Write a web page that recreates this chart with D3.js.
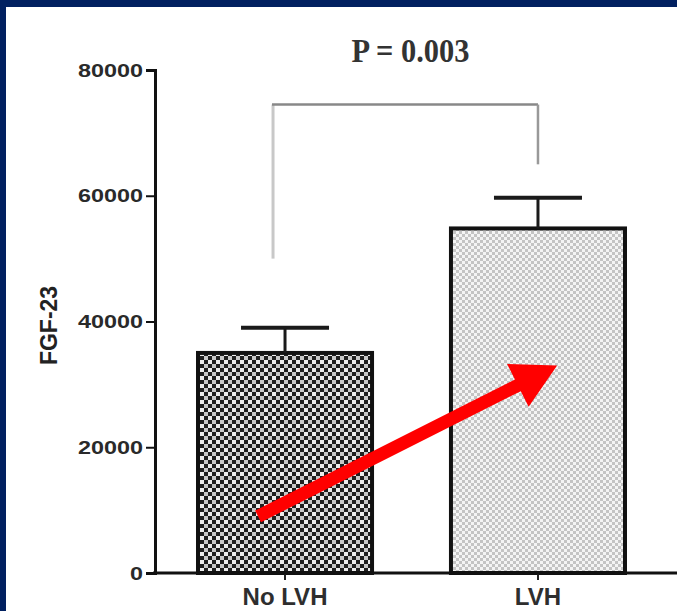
<!DOCTYPE html>
<html>
<head>
<meta charset="utf-8">
<script src="https://cdn.jsdelivr.net/npm/d3@7"></script>
<style>
  html, body { margin: 0; padding: 0; background: #fff; }
  svg { display: block; }
</style>
</head>
<body>
<svg id="chart" width="677" height="611"></svg>
<script>
// FGF-23 by LVH status: group means with SEM bars
const categories = ["No LVH", "LVH"];
const means = [35000, 54800];
const errorTops = [39000, 59700];
const yTicks = [0, 20000, 40000, 60000, 80000];
const yTickLabels = ["0", "20000", "40000", "60000", "80000"];
const pLabel = "P = 0.003";
const yTitle = "FGF-23";
// significance bracket: left leg bottom, top, right leg bottom
const bracket = [50000, 74500, 65000];
// arrow annotation: from (No LVH, 9000) to (LVH, 33000)
const arrowFrom = ["No LVH", 9000];
const arrowTo = ["LVH", 33000];

const svg = d3.select("#chart");
const W = 677, H = 611;

// frame band on top and left
svg.append("rect").attr("x", 0).attr("y", 0).attr("width", W).attr("height", H).attr("fill", "#fff");
svg.append("rect").attr("x", 0).attr("y", 0).attr("width", W).attr("height", 7).attr("fill", "#012060");
svg.append("rect").attr("x", 0).attr("y", 0).attr("width", 6).attr("height", H).attr("fill", "#012060");

const y = d3.scaleLinear().domain([0, 80000]).range([573, 70]);
const x = d3.scaleBand().domain(categories).range([155, 668]).paddingInner(0.312).paddingOuter(0.17);
const cx = c => x(c) + x.bandwidth() / 2;

// fill patterns
const defs = svg.append("defs");
const dark = defs.append("pattern").attr("id", "darkCheck").attr("patternUnits", "userSpaceOnUse")
  .attr("width", 8).attr("height", 8);
dark.append("rect").attr("width", 8).attr("height", 8).attr("fill", "#1f1f1f");
dark.append("rect").attr("x", 0).attr("y", 0).attr("width", 4).attr("height", 4).attr("fill", "#ececec");
dark.append("rect").attr("x", 4).attr("y", 4).attr("width", 4).attr("height", 4).attr("fill", "#c8c8c8");

const light = defs.append("pattern").attr("id", "lightCheck").attr("patternUnits", "userSpaceOnUse")
  .attr("width", 6).attr("height", 6);
light.append("rect").attr("width", 6).attr("height", 6).attr("fill", "#f4f4f4");
light.append("rect").attr("x", 0).attr("y", 0).attr("width", 3).attr("height", 3).attr("fill", "#c4c4c4");
light.append("rect").attr("x", 3).attr("y", 3).attr("width", 3).attr("height", 3).attr("fill", "#c4c4c4");

const fills = ["url(#darkCheck)", "url(#lightCheck)"];

// bars
svg.append("g").selectAll("rect").data(categories).join("rect")
  .attr("x", d => x(d))
  .attr("y", (d, i) => y(means[i]))
  .attr("width", x.bandwidth())
  .attr("height", (d, i) => y(0) - y(means[i]))
  .attr("fill", (d, i) => fills[i])
  .attr("stroke", "#111")
  .attr("stroke-width", 4);

// error bars
const eb = svg.append("g").attr("stroke", "#1a1a1a");
categories.forEach((c, i) => {
  eb.append("line").attr("x1", cx(c)).attr("x2", cx(c))
    .attr("y1", y(means[i])).attr("y2", y(errorTops[i])).attr("stroke-width", 3);
  eb.append("line").attr("x1", cx(c) - 44).attr("x2", cx(c) + 44)
    .attr("y1", y(errorTops[i])).attr("y2", y(errorTops[i])).attr("stroke-width", 4);
});

// y axis
const yAxis = svg.append("g").attr("transform", "translate(155,0)")
  .call(d3.axisLeft(y).tickValues(yTicks).tickFormat((d, i) => yTickLabels[i]).tickSize(9).tickPadding(3));
yAxis.select(".domain").attr("stroke", "#111").attr("stroke-width", 3);
yAxis.selectAll(".tick line").attr("stroke", "#111").attr("stroke-width", 2);
yAxis.selectAll(".tick text")
  .attr("font-family", "'Liberation Sans', Arial, sans-serif")
  .attr("font-weight", "bold").attr("font-size", 19).attr("fill", "#2a2a2a")
  .attr("textLength", function() { return this.textContent.length * 13; })
  .attr("lengthAdjust", "spacingAndGlyphs");

// x axis
const xAxis = svg.append("g").attr("transform", `translate(0,${y(0)})`)
  .call(d3.axisBottom(x).tickSize(7).tickPadding(10).tickSizeOuter(0));
xAxis.select(".domain").remove();
svg.append("line").attr("x1", 153).attr("x2", W).attr("y1", y(0)).attr("y2", y(0))
  .attr("stroke", "#111").attr("stroke-width", 3);
xAxis.selectAll(".tick line").attr("stroke", "#222").attr("stroke-width", 2);
xAxis.selectAll(".tick text")
  .attr("font-family", "'Liberation Sans', Arial, sans-serif")
  .attr("font-weight", "bold").attr("font-size", 24).attr("fill", "#2e2e2e")
  .attr("dy", "0.62em");

// y title
svg.append("text")
  .attr("transform", `translate(57,${(y(0) + y(80000)) / 2 + 4}) rotate(-90)`)
  .attr("text-anchor", "middle")
  .attr("font-family", "'Liberation Sans', Arial, sans-serif")
  .attr("font-weight", "bold").attr("font-size", 23).attr("fill", "#222")
  .text(yTitle);

// significance bracket
const bl = cx(categories[0]) - 12, br = cx(categories[1]);
svg.append("line").attr("x1", bl).attr("x2", bl).attr("y1", y(bracket[0])).attr("y2", y(bracket[1]))
  .attr("stroke", "#c8c8c8").attr("stroke-width", 3);
svg.append("line").attr("x1", bl - 1).attr("x2", br).attr("y1", y(bracket[1])).attr("y2", y(bracket[1]))
  .attr("stroke", "#888").attr("stroke-width", 2.5);
svg.append("line").attr("x1", br).attr("x2", br).attr("y1", y(bracket[1])).attr("y2", y(bracket[2]))
  .attr("stroke", "#999").attr("stroke-width", 2.5);

svg.append("text")
  .attr("x", (bl + br) / 2 + 5).attr("y", 62)
  .attr("text-anchor", "middle")
  .attr("font-family", "'Liberation Serif', 'Times New Roman', serif")
  .attr("font-weight", "bold").attr("font-size", 34).attr("fill", "#333")
  .attr("textLength", 118).attr("lengthAdjust", "spacingAndGlyphs")
  .text(pLabel);

// red arrow
const ax0 = x(arrowFrom[0]) + x.bandwidth() * 0.345, ay0 = y(arrowFrom[1]);
const ax1 = cx(arrowTo[0]) + x.bandwidth() * 0.11, ay1 = y(arrowTo[1]);
const ang = Math.atan2(ay1 - ay0, ax1 - ax0);
const headLen = 44, headHalf = 24, shaftHalf = 6.5;
const ux = Math.cos(ang), uy = Math.sin(ang), nx = -uy, ny = ux;
const bx = ax1 - ux * headLen, by = ay1 - uy * headLen;
const pts = [
  [ax0 + nx * shaftHalf, ay0 + ny * shaftHalf],
  [bx + nx * shaftHalf, by + ny * shaftHalf],
  [bx + nx * headHalf, by + ny * headHalf],
  [ax1, ay1],
  [bx - nx * headHalf, by - ny * headHalf],
  [bx - nx * shaftHalf, by - ny * shaftHalf],
  [ax0 - nx * shaftHalf, ay0 - ny * shaftHalf]
];
svg.append("path").attr("d", d3.line()(pts) + "Z").attr("fill", "#ff0000");
</script>
</body>
</html>
